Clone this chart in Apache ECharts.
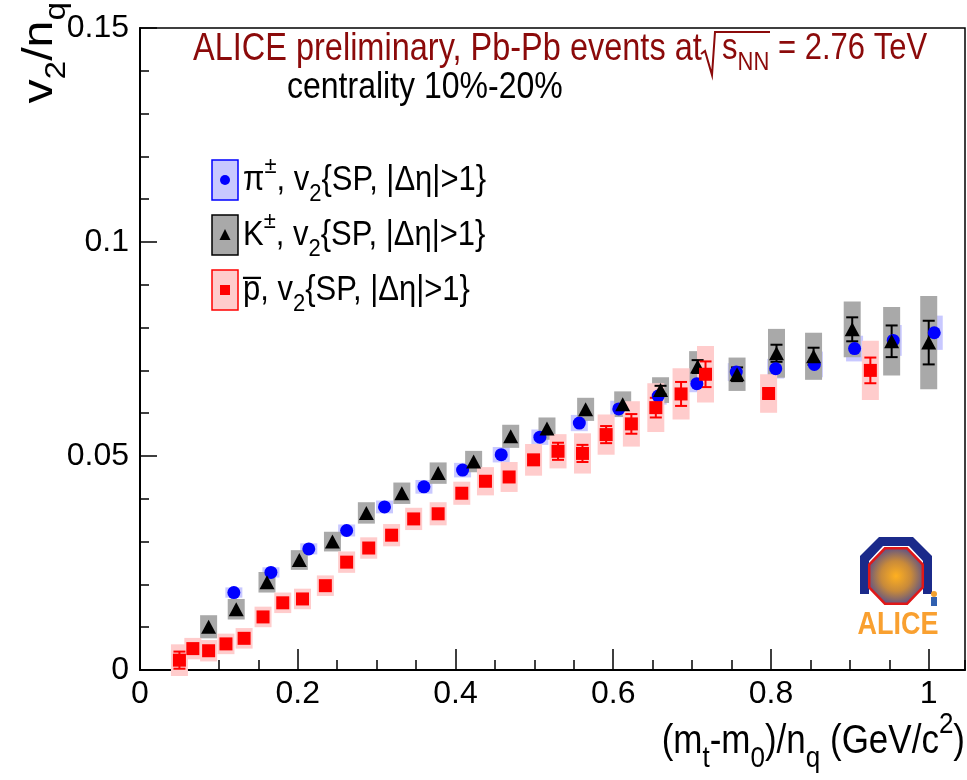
<!DOCTYPE html>
<html>
<head>
<meta charset="utf-8">
<script src="https://cdn.jsdelivr.net/npm/echarts@6/dist/echarts.min.js"></script>
<style>
  html, body { margin: 0; padding: 0; background: #fff; }
  #chart { width: 967px; height: 780px; }
</style>
</head>
<body>
<div id="chart"></div>
<script>
  // pi+-  v2/nq
  const pionX = [0.119, 0.166, 0.214, 0.262, 0.310, 0.360, 0.409, 0.458, 0.507, 0.557,
                 0.607, 0.657, 0.706, 0.756, 0.806, 0.855, 0.906, 0.955, 1.007]
  const pionY = [0.0181, 0.0228, 0.0283, 0.0326, 0.0381, 0.0428, 0.0467, 0.0503, 0.0544, 0.0577,
                 0.0610, 0.0640, 0.0669, 0.0696, 0.0704, 0.0714, 0.0751, 0.0770, 0.0788]
  const pionSys = [0.0012, 0.0012, 0.0013, 0.0014, 0.0015, 0.0016, 0.0017, 0.0018, 0.0018, 0.0019,
                   0.0019, 0.0020, 0.0020, 0.0021, 0.0023, 0.0030, 0.0030, 0.0036, 0.0040]

  // K+-
  const kaonX = [0.087, 0.122, 0.161, 0.202, 0.244, 0.287, 0.332, 0.378, 0.423, 0.470,
                 0.516, 0.565, 0.612, 0.660, 0.707, 0.757, 0.807, 0.854, 0.903, 0.953, 1.000]
  const kaonY = [0.0101, 0.0142, 0.0205, 0.0257, 0.0300, 0.0367, 0.0413, 0.0460, 0.0487, 0.0546,
                 0.0564, 0.0609, 0.0621, 0.0654, 0.0709, 0.0691, 0.0740, 0.0733, 0.0796, 0.0768, 0.0765]
  const kaonStat = [0, 0, 0, 0, 0, 0, 0, 0, 0, 0,
                    0, 0, 0, 0.0010, 0.0015, 0.0016, 0.0020, 0.0020, 0.0028, 0.0037, 0.0051]
  const kaonSys = [0.0027, 0.0024, 0.0024, 0.0023, 0.0023, 0.0025, 0.0025, 0.0025, 0.0025, 0.0027,
                   0.0026, 0.0027, 0.0030, 0.0030, 0.0036, 0.0039, 0.0057, 0.0055, 0.0065, 0.0080, 0.0109]

  // anti-proton
  const protonX = [0.050, 0.067, 0.087, 0.109, 0.132, 0.156, 0.181, 0.206, 0.235, 0.262,
                   0.290, 0.319, 0.347, 0.378, 0.408, 0.438, 0.468, 0.499, 0.530, 0.561,
                   0.591, 0.623, 0.654, 0.686, 0.717, 0.797, 0.926]
  const protonY = [0.0023, 0.0050, 0.0045, 0.0061, 0.0074, 0.0124, 0.0157, 0.0166, 0.0197, 0.0252,
                   0.0285, 0.0315, 0.0353, 0.0365, 0.0413, 0.0441, 0.0451, 0.0491, 0.0511, 0.0506,
                   0.0550, 0.0575, 0.0613, 0.0645, 0.0691, 0.0646, 0.0700]
  const protonStat = [0.0020, 0, 0, 0, 0, 0, 0, 0, 0, 0,
                      0, 0, 0, 0, 0, 0, 0, 0.0010, 0.0020, 0.0020,
                      0.0020, 0.0023, 0.0023, 0.0028, 0.0030, 0.0010, 0.0030]
  const protonSys = [0.0037, 0.0025, 0.0025, 0.0024, 0.0024, 0.0024, 0.0024, 0.0024, 0.0024, 0.0025,
                     0.0025, 0.0026, 0.0026, 0.0027, 0.0027, 0.0033, 0.0035, 0.0037, 0.0040, 0.0047,
                     0.0047, 0.0053, 0.0057, 0.0060, 0.0066, 0.0045, 0.0069]

  const xTicks = [0, 0.2, 0.4, 0.6, 0.8, 1]
  const yTicks = [0, 0.05, 0.1, 0.15]

  const FONT = "'Liberation Sans', Arial, Helvetica, sans-serif"
  const TITLE_RED = '#8b0a0a'

  // sub/superscript styles for rich text, main text uses the parent style
  function richStyles(base, color, ratio, shift) {
    const small = Math.round(base * (ratio || 0.72))
    const pad = Math.round(base * (shift || 0.85))
    return {
      sub: { fontSize: small, fontFamily: FONT, fill: color, padding: [pad, 0, 0, 0] },
      sup: { fontSize: small, fontFamily: FONT, fill: color, padding: [0, 0, pad, 0] }
    }
  }

  function zip3(xs, ys, es) {
    return xs.map((x, i) => [x, ys[i], es ? es[i] : 0])
  }

  function sysBoxes(xs, ys, es, color, z) {
    return {
      type: 'custom',
      z: z,
      encode: { x: 0, y: 1 },
      data: zip3(xs, ys, es),
      renderItem(params, api) {
        const x = api.value(0), y = api.value(1), e = api.value(2)
        const lo = api.coord([x, y - e])
        const hi = api.coord([x, y + e])
        return {
          type: 'rect',
          shape: { x: lo[0] - 8.5, y: hi[1], width: 17, height: lo[1] - hi[1] },
          style: { fill: color }
        }
      }
    }
  }

  function statBars(xs, ys, es, color, z) {
    return {
      type: 'custom',
      z: z,
      encode: { x: 0, y: 1 },
      data: zip3(xs, ys, es),
      renderItem(params, api) {
        const x = api.value(0), y = api.value(1), e = api.value(2)
        if (!e) return null
        const lo = api.coord([x, y - e])
        const hi = api.coord([x, y + e])
        const st = { stroke: color, lineWidth: 2 }
        return {
          type: 'group',
          children: [
            { type: 'line', shape: { x1: lo[0], y1: lo[1], x2: hi[0], y2: hi[1] }, style: st },
            { type: 'line', shape: { x1: lo[0] - 6, y1: lo[1], x2: lo[0] + 6, y2: lo[1] }, style: st },
            { type: 'line', shape: { x1: hi[0] - 6, y1: hi[1], x2: hi[0] + 6, y2: hi[1] }, style: st }
          ]
        }
      }
    }
  }

  function markers(xs, ys, symbol, size, color, z) {
    return {
      type: 'scatter',
      z: z,
      symbol: symbol,
      symbolSize: size,
      itemStyle: { color: color, opacity: 1 },
      data: xs.map((x, i) => [x, ys[i]])
    }
  }

  function isTick(v, list) {
    return list.some(t => Math.abs(t - v) < 1e-6)
  }

  // octagon for the logo
  const oct = []
  for (let k = 0; k < 8; k++) {
    const a = Math.PI / 8 + k * Math.PI / 4
    oct.push([896 + 29 * Math.cos(a), 576 + 30 * Math.sin(a)])
  }

  function legendRow(cy, fill, stroke, marker, text) {
    return {
      type: 'group',
      children: [
        { type: 'rect', shape: { x: 212, y: cy - 20, width: 26, height: 40 }, style: { fill: fill, stroke: stroke, lineWidth: 1.5 } },
        marker,
        {
          type: 'text', x: 243, y: cy, scaleY: 1.12,
          style: {
            text: text, fontSize: 31, fontFamily: FONT, fill: '#000',
            verticalAlign: 'middle', align: 'left', rich: richStyles(31, '#000', 0.72, 0.8)
          }
        }
      ]
    }
  }

  const chart = echarts.init(document.getElementById('chart'), null, { renderer: 'canvas' })

  chart.setOption({
    animation: false,
    backgroundColor: '#fff',
    grid: {
      left: 140,
      right: 2,
      top: 28,
      bottom: 110,
      show: true,
      borderColor: '#000',
      borderWidth: 1.5,
      backgroundColor: 'transparent'
    },
    xAxis: [{
      type: 'value',
      min: 0,
      max: 1.046,
      interval: 0.2,
      axisLine: { show: true, onZero: false, lineStyle: { color: '#000', width: 2 } },
      axisTick: { inside: true, length: 21, lineStyle: { color: '#000', width: 1.5 } },
      splitLine: { show: false },
      axisLabel: {
        color: '#000',
        fontSize: 32,
        fontFamily: FONT,
        margin: 8,
        showMaxLabel: false,
        formatter: v => isTick(v, xTicks) ? String(+v.toFixed(2)) : ''
      }
    }, {
      type: 'value',
      position: 'bottom',
      min: 0,
      max: 1.046,
      interval: 0.05,
      axisLine: { show: false },
      axisTick: { inside: true, length: 10, lineStyle: { color: '#000', width: 1.5 } },
      axisLabel: { show: false },
      splitLine: { show: false }
    }],
    yAxis: {
      type: 'value',
      min: 0,
      max: 0.15,
      interval: 0.05,
      axisLine: { show: true, lineStyle: { color: '#000', width: 2 } },
      axisTick: { inside: true, length: 17, lineStyle: { color: '#000', width: 1.5 } },
      minorTick: { show: true, splitNumber: 5, length: 9, lineStyle: { color: '#000', width: 1.5 } },
      splitLine: { show: false },
      axisLabel: {
        color: '#000',
        fontSize: 32,
        fontFamily: FONT,
        margin: 11,
        formatter: v => isTick(v, yTicks) ? String(+v.toFixed(2)) : ''
      }
    },
    series: [
      sysBoxes(pionX, pionY, pionSys, '#c8c8ff', 1),
      sysBoxes(kaonX, kaonY, kaonSys, '#a9a9a9', 2),
      sysBoxes(protonX, protonY, protonSys, '#ffcccc', 3),
      statBars(kaonX, kaonY, kaonStat, '#000', 4),
      statBars(protonX, protonY, protonStat, '#ff0000', 4),
      markers(pionX, pionY, 'circle', 13, '#0000ff', 5),
      markers(kaonX, kaonY, 'triangle', [15, 14], '#000', 6),
      markers(protonX, protonY, 'rect', 13, '#ff0000', 7)
    ],
    graphic: [
      // title
      {
        type: 'text', x: 193, y: 49, scaleY: 1.2,
        style: { text: 'ALICE preliminary, Pb-Pb events at', fontSize: 32.5, fontFamily: FONT, fill: TITLE_RED, align: 'left', verticalAlign: 'middle' }
      },
      {
        type: 'polyline',
        shape: { points: [[701, 54], [705, 51], [712, 75], [715, 32], [770, 32]] },
        style: { stroke: TITLE_RED, lineWidth: 2, fill: null }
      },
      {
        type: 'text', x: 722, y: 49, scaleY: 1.2,
        style: { text: 's{sub|NN}', fontSize: 31, fontFamily: FONT, fill: TITLE_RED, align: 'left', verticalAlign: 'middle', rich: richStyles(31, TITLE_RED, 0.7, 0.75) }
      },
      {
        type: 'text', x: 778, y: 49, scaleY: 1.2,
        style: { text: '= 2.76 TeV', fontSize: 31, fontFamily: FONT, fill: TITLE_RED, align: 'left', verticalAlign: 'middle' }
      },
      {
        type: 'text', x: 287, y: 88, scaleY: 1.15,
        style: { text: 'centrality 10%-20%', fontSize: 32, fontFamily: FONT, fill: '#000', align: 'left', verticalAlign: 'middle' }
      },
      // legend
      legendRow(180, '#c8c8ff', '#0000ff',
        { type: 'circle', shape: { cx: 225, cy: 180, r: 5 }, style: { fill: '#0000ff' } },
        'π{sup|±}, v{sub|2}{SP, |Δη|>1}'),
      legendRow(235, '#a9a9a9', '#000',
        { type: 'polygon', shape: { points: [[225, 229], [230.5, 240], [219.5, 240]] }, style: { fill: '#000' } },
        'K{sup|±}, v{sub|2}{SP, |Δη|>1}'),
      legendRow(290, '#ffcccc', '#ff0000',
        { type: 'rect', shape: { x: 220, y: 285, width: 10, height: 10 }, style: { fill: '#ff0000' } },
        'p\u0305, v{sub|2}{SP, |Δη|>1}'),
      // axis titles
      {
        type: 'text', x: 965, y: 742, scaleY: 1.15,
        style: {
          text: '(m{sub|t}-m{sub|0})/n{sub|q} (GeV/c{sup|2})', fontSize: 35, fontFamily: FONT, fill: '#000',
          align: 'right', verticalAlign: 'middle', rich: richStyles(35, '#000', 0.75, 0.85)
        }
      },
      {
        type: 'text', x: 40, y: 2, rotation: Math.PI / 2, scaleX: 1.15,
        style: {
          text: 'v{sub|2}/n{sub|q}', fontSize: 42, fontFamily: FONT, fill: '#000',
          align: 'right', verticalAlign: 'middle', rich: richStyles(42, '#000', 0.7, 0.8)
        }
      },
      // ALICE logo
      {
        type: 'polygon',
        shape: { points: [[860, 594], [860, 556], [879, 537], [913, 537], [932, 556], [932, 594], [923, 594], [923, 561], [909, 546], [883, 546], [869, 561], [869, 594]] },
        style: { fill: '#1b2a8a' }
      },
      {
        type: 'polygon',
        shape: { points: oct },
        style: {
          fill: { type: 'radial', x: 0.5, y: 0.5, r: 0.6, colorStops: [
            { offset: 0, color: '#ffb020' }, { offset: 0.45, color: '#c88a3a' }, { offset: 1, color: '#3a40a0' }] },
          stroke: '#e01818',
          lineWidth: 2.5
        }
      },
      { type: 'circle', shape: { cx: 934, cy: 594, r: 3 }, style: { fill: '#f0a030' } },
      { type: 'rect', shape: { x: 931, y: 597, width: 6, height: 9 }, style: { fill: '#3060b0' } },
      {
        type: 'text', x: 898, y: 625, scaleY: 1.15,
        style: { text: 'ALICE', fontSize: 27, fontWeight: 'bold', fontFamily: FONT, fill: '#f9a030', align: 'center', verticalAlign: 'middle' }
      }
    ]
  })
</script>
</body>
</html>
